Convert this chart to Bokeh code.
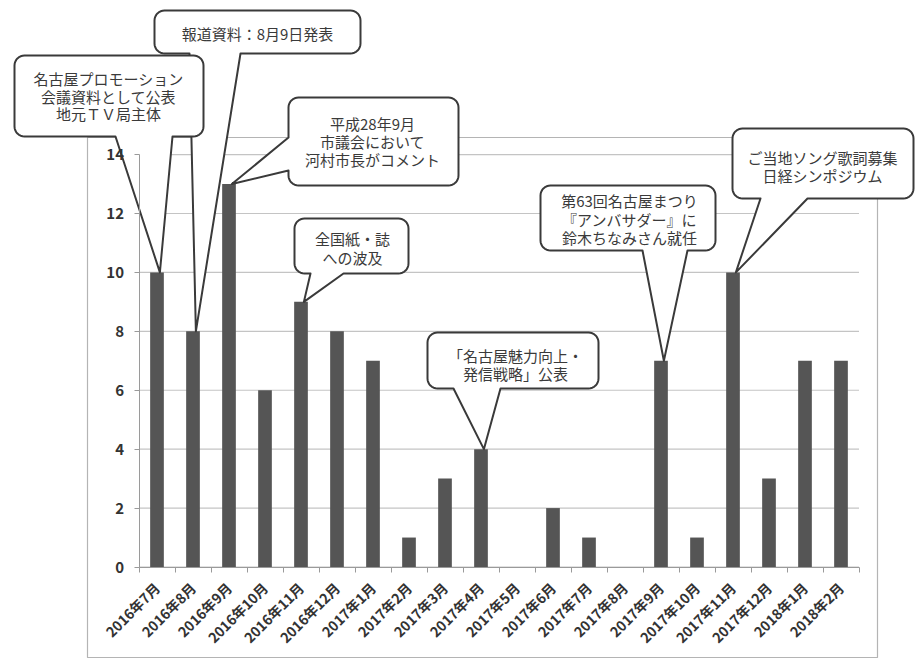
import math
from bokeh.plotting import figure
from bokeh.models import Range1d, FixedTicker, LinearAxis
from bokeh.core.properties import value
from bokeh.embed import file_html
from bokeh.resources import INLINE

# ---------------- data ----------------
months = ["2016年7月", "2016年8月", "2016年9月", "2016年10月", "2016年11月", "2016年12月",
          "2017年1月", "2017年2月", "2017年3月", "2017年4月", "2017年5月", "2017年6月",
          "2017年7月", "2017年8月", "2017年9月", "2017年10月", "2017年11月", "2017年12月",
          "2018年1月", "2018年2月"]
counts = [10, 8, 13, 6, 9, 8, 7, 1, 3, 4, 0, 2, 1, 0, 7, 1, 10, 3, 7, 7]
y_ticks = [0, 2, 4, 6, 8, 10, 12, 14]

callout_months = ["2016年8月", "2016年7月", "2016年9月", "2016年11月",
                  "2017年4月", "2017年9月", "2017年11月"]
callout_texts = [
    ["報道資料：8月9日発表"],
    ["名古屋プロモーション", "会議資料として公表", "地元ＴＶ局主体"],
    ["平成28年9月", "市議会において", "河村市長がコメント"],
    ["全国紙・誌", "への波及"],
    ["「名古屋魅力向上・", "発信戦略」公表"],
    ["第63回名古屋まつり", "『アンバサダー』に", "鈴木ちなみさん就任"],
    ["ご当地ソング歌詞募集", "日経シンポジウム"],
]

# ---------------- layout (pixel geometry of the page) ----------------
W, H = 916, 658
X0, DX = 156.5, 36.0     # pixel of first category centre, pixels per category
Y0, DY = 566.5, 29.46    # pixel of value 0, pixels per unit


def dx(px):
    return (px - X0) / DX


def dy(py):
    return (Y0 - py) / DY


# box: (left, top, right, bottom), pointer side, pointer base (from, to), text centre x, first line y, line step
callout_layout = [
    ((154, 10, 360, 53), "bottom", (189, 240), 257, 33, 18),
    ((14, 55, 203, 136), "bottom", (115, 172), 108, 78, 17.5),
    ((288, 97, 458, 185), "left", (137, 170), 372, 123, 18),
    ((294, 218, 408, 273), "bottom", (310, 343), 352, 238, 19),
    ((427, 332, 598, 388), "bottom", (453, 500), 515, 355, 18),
    ((540, 185, 715, 250), "bottom", (642, 687), 629, 200, 18.5),
    ((732, 128, 913, 198), "bottom", (760, 807), 822, 157, 18),
]
RADIUS = 10


def arc(cx, cy, r, a0, a1, n=8):
    return [(cx + r * math.cos(a0 + (a1 - a0) * k / n),
             cy + r * math.sin(a0 + (a1 - a0) * k / n)) for k in range(n + 1)]


def bubble_path(box, side, base, tip, r=RADIUS):
    x0, y0, x1, y1 = box
    pts = []
    pts += arc(x0 + r, y0 + r, r, math.pi, 1.5 * math.pi)
    pts += arc(x1 - r, y0 + r, r, -0.5 * math.pi, 0)
    pts += arc(x1 - r, y1 - r, r, 0, 0.5 * math.pi)
    if side == "bottom":
        pts += [(base[1], y1), tip, (base[0], y1)]
    pts += arc(x0 + r, y1 - r, r, 0.5 * math.pi, math.pi)
    if side == "left":
        pts += [(x0, base[1]), tip, (x0, base[0])]
    return pts


p = figure(width=W, height=H, output_backend="svg", toolbar_location=None,
           x_range=Range1d(dx(0), dx(W)), y_range=Range1d(dy(H), dy(0)),
           min_border=0)
p.outline_line_color = None
p.background_fill_color = "white"
p.border_fill_color = "white"

FONT = "Noto Sans CJK JP"
N = len(months)

# chart border
p.quad(left=[dx(87)], right=[dx(877)], top=[dy(137)], bottom=[dy(657)],
       fill_color=None, line_color="#b4b4b4", line_width=1.2)

# horizontal gridlines across the plot area only
p.xgrid.visible = False
p.ygrid.visible = False
p.segment(x0=[-0.5] * len(y_ticks), x1=[N - 0.5] * len(y_ticks), y0=y_ticks, y1=y_ticks,
          line_color="#c4c4c4", line_width=1.2)

# axes
xs = list(range(N))
xa = p.xaxis[0]
xa.fixed_location = 0
xa.ticker = FixedTicker(ticks=xs)
xa.major_label_overrides = {i: m for i, m in enumerate(months)}
xa.major_label_orientation = math.pi / 4
xa.major_tick_line_color = None
xa.major_tick_in = 0
xa.major_tick_out = 5
xa.minor_tick_line_color = None
xa.axis_line_color = "#9a9a9a"
xa.bounds = (-0.5, N - 0.5)
xa.major_label_text_font = FONT
xa.major_label_text_font_style = "bold"
xa.major_label_text_font_size = "14px"
xa.major_label_text_color = "#333333"
xa.major_label_standoff = 13

xt = LinearAxis(ticker=FixedTicker(ticks=[i - 0.5 for i in range(N + 1)]),
                fixed_location=0, axis_line_color=None,
                major_tick_line_color="#9a9a9a", major_tick_in=0, major_tick_out=5,
                minor_tick_line_color=None, major_label_text_alpha=0,
                major_label_text_font_size="1px")
p.add_layout(xt, "below")

ya = p.yaxis[0]
ya.fixed_location = -0.5
ya.ticker = FixedTicker(ticks=y_ticks)
ya.bounds = (0, 14)
ya.axis_line_color = "#9a9a9a"
ya.major_tick_line_color = "#9a9a9a"
ya.major_tick_in = 0
ya.major_tick_out = 5
ya.minor_tick_line_color = None
ya.major_label_text_font = FONT
ya.major_label_text_font_style = "bold"
ya.major_label_text_font_size = "15px"
ya.major_label_text_color = "#333333"
ya.major_label_standoff = 10

# bars
p.vbar(x=xs, top=counts, width=0.38, fill_color="#555555", line_color=None)

# callouts
bx, by = [], []
tx, ty, tt = [], [], []
for mon, lines, lay in zip(callout_months, callout_texts, callout_layout):
    box, side, base, cx, ly, step = lay
    i = months.index(mon)
    tip = (X0 + DX * (i + 0.08), Y0 - DY * counts[i])
    pts = bubble_path(box, side, base, tip)
    bx.append([dx(q[0]) for q in pts])
    by.append([dy(q[1]) for q in pts])
    for k, line in enumerate(lines):
        tx.append(dx(cx))
        ty.append(dy(ly + k * step))
        tt.append(line)

p.patches(bx, by, fill_color="white", line_color="#3a3a3a", line_width=2, line_join="round")
p.text(x=tx, y=ty, text=tt, text_align="center", text_baseline="middle",
       text_font=value(FONT), text_font_size="15px", text_color="#3a3a3a")

open("out.html", "w").write(file_html(p, INLINE))
